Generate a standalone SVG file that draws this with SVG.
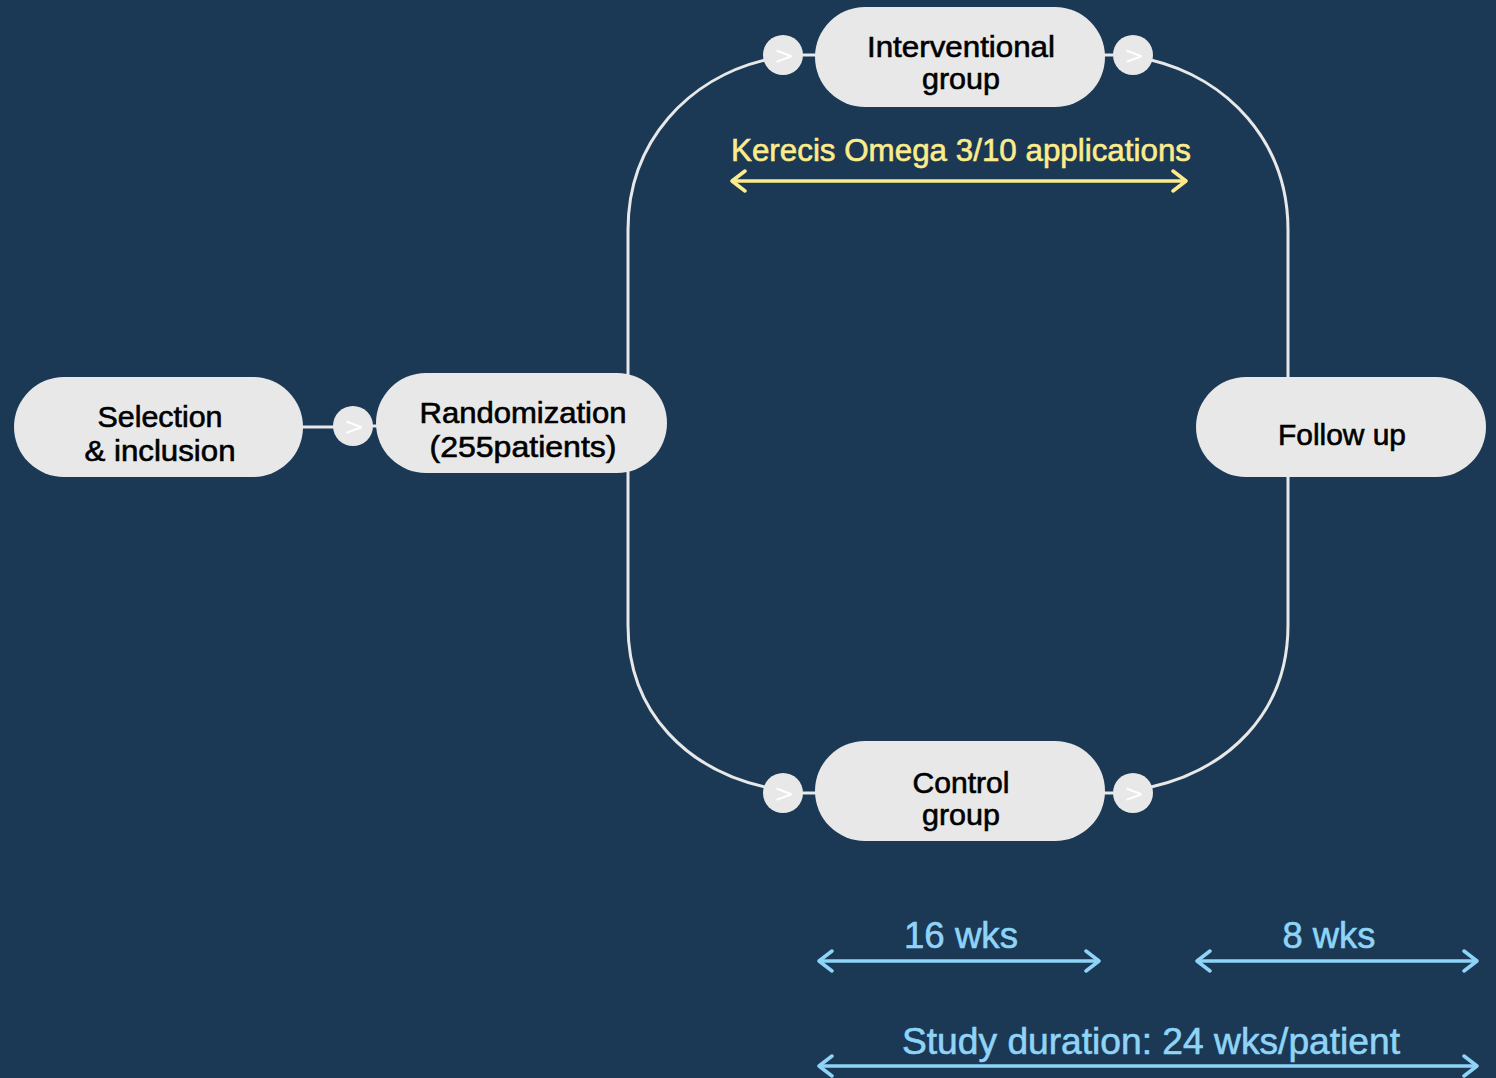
<svg xmlns="http://www.w3.org/2000/svg" width="1496" height="1078" viewBox="0 0 1496 1078">
<style>
.pill{fill:#e8e8e8}
.dot{fill:#e8e8e8}
.lbl{font-family:"Liberation Sans",Arial,sans-serif;font-size:29px;fill:#000;stroke:#000;stroke-width:0.6;text-anchor:middle}
.gt{font-family:"DejaVu Sans",sans-serif;font-size:24px;fill:#fff;text-anchor:middle}
.flow{fill:none;stroke:#e8e8e8;stroke-width:3}
.ya{fill:none;stroke:#fdec8c;stroke-width:3.5}
.ba{fill:none;stroke:#8fd4f6;stroke-width:3.5}
.ytx{font-family:"Liberation Sans",Arial,sans-serif;font-size:31px;fill:#fdec8c;stroke:#fdec8c;stroke-width:0.6;text-anchor:middle}
.btx{font-family:"Liberation Sans",Arial,sans-serif;font-size:37px;fill:#8fd4f6;stroke:#8fd4f6;stroke-width:0.6;text-anchor:middle}
</style>
<defs>
<marker id="my" viewBox="0 0 20 24" refX="17" refY="12" markerWidth="20" markerHeight="24" markerUnits="userSpaceOnUse" orient="auto-start-reverse"><polyline points="4,2 17,12 4,22" fill="none" stroke="#fdec8c" stroke-width="3.5" stroke-linecap="round" stroke-linejoin="round"/></marker>
<marker id="mb" viewBox="0 0 20 24" refX="17" refY="12" markerWidth="20" markerHeight="24" markerUnits="userSpaceOnUse" orient="auto-start-reverse"><polyline points="4,2 17,12 4,22" fill="none" stroke="#8fd4f6" stroke-width="3.5" stroke-linecap="round" stroke-linejoin="round"/></marker>
</defs>
<rect width="1496" height="1078" fill="#1b3955"/>
<g id="connectors">
<line class="flow" x1="300" y1="427" x2="335" y2="427"/>
<line class="flow" x1="370" y1="426" x2="380" y2="426"/>
<path class="flow" d="M628,375 V230 C628,140 690,78 765,60"/>
<path class="flow" d="M628,470 V625 C628,715 690,770 765,787"/>
<line class="flow" x1="800" y1="55" x2="818" y2="55"/>
<line class="flow" x1="800" y1="793" x2="818" y2="793"/>
<line class="flow" x1="1102" y1="55" x2="1118" y2="55"/>
<line class="flow" x1="1102" y1="793" x2="1118" y2="793"/>
<path class="flow" d="M1151,60 C1226,78 1288,140 1288,230 V380"/>
<path class="flow" d="M1151,787 C1226,770 1288,715 1288,625 V475"/>
<line class="ya" x1="732" y1="181" x2="1186" y2="181" marker-start="url(#my)" marker-end="url(#my)"/>
<line class="ba" x1="819" y1="961" x2="1099" y2="961" marker-start="url(#mb)" marker-end="url(#mb)"/>
<line class="ba" x1="1197" y1="961" x2="1477" y2="961" marker-start="url(#mb)" marker-end="url(#mb)"/>
<line class="ba" x1="819" y1="1066" x2="1477" y2="1066" marker-start="url(#mb)" marker-end="url(#mb)"/>
</g>
<g id="dots">
<circle class="dot" cx="353" cy="426" r="20"/><text class="gt" x="354" y="435">&gt;</text>
<circle class="dot" cx="783" cy="55" r="20"/><text class="gt" x="784" y="64">&gt;</text>
<circle class="dot" cx="1133" cy="55" r="20"/><text class="gt" x="1134" y="64">&gt;</text>
<circle class="dot" cx="783" cy="793" r="20"/><text class="gt" x="784" y="802">&gt;</text>
<circle class="dot" cx="1133" cy="793" r="20"/><text class="gt" x="1134" y="802">&gt;</text>
</g>
<g id="selection">
<rect class="pill" x="14" y="377" width="289" height="100" rx="50"/>
<text class="lbl" x="160" y="427" textLength="125" lengthAdjust="spacingAndGlyphs">Selection</text>
<text class="lbl" x="160" y="461" textLength="151" lengthAdjust="spacingAndGlyphs">&amp; inclusion</text>
</g>
<g id="randomization">
<rect class="pill" x="376" y="373" width="291" height="100" rx="50"/>
<text class="lbl" x="523" y="423" textLength="207" lengthAdjust="spacingAndGlyphs">Randomization</text>
<text class="lbl" x="523" y="457" textLength="187" lengthAdjust="spacingAndGlyphs">(255patients)</text>
</g>
<g id="interventional">
<rect class="pill" x="815" y="7" width="290" height="100" rx="50"/>
<text class="lbl" x="961" y="57" textLength="188" lengthAdjust="spacingAndGlyphs">Interventional</text>
<text class="lbl" x="961" y="89" textLength="78" lengthAdjust="spacingAndGlyphs">group</text>
</g>
<g id="control">
<rect class="pill" x="815" y="741" width="290" height="100" rx="50"/>
<text class="lbl" x="961" y="793" textLength="97" lengthAdjust="spacingAndGlyphs">Control</text>
<text class="lbl" x="961" y="825" textLength="78" lengthAdjust="spacingAndGlyphs">group</text>
</g>
<g id="followup">
<rect class="pill" x="1196" y="377" width="290" height="100" rx="50"/>
<text class="lbl" x="1342" y="445" textLength="128" lengthAdjust="spacingAndGlyphs">Follow up</text>
</g>
<g id="labels">
<text class="ytx" x="961" y="161" textLength="460" lengthAdjust="spacingAndGlyphs">Kerecis Omega 3/10 applications</text>
<text class="btx" x="961" y="948" textLength="114" lengthAdjust="spacingAndGlyphs">16 wks</text>
<text class="btx" x="1329" y="948" textLength="93" lengthAdjust="spacingAndGlyphs">8 wks</text>
<text class="btx" x="1151" y="1054" textLength="498" lengthAdjust="spacingAndGlyphs">Study duration: 24 wks/patient</text>
</g>
</svg>
